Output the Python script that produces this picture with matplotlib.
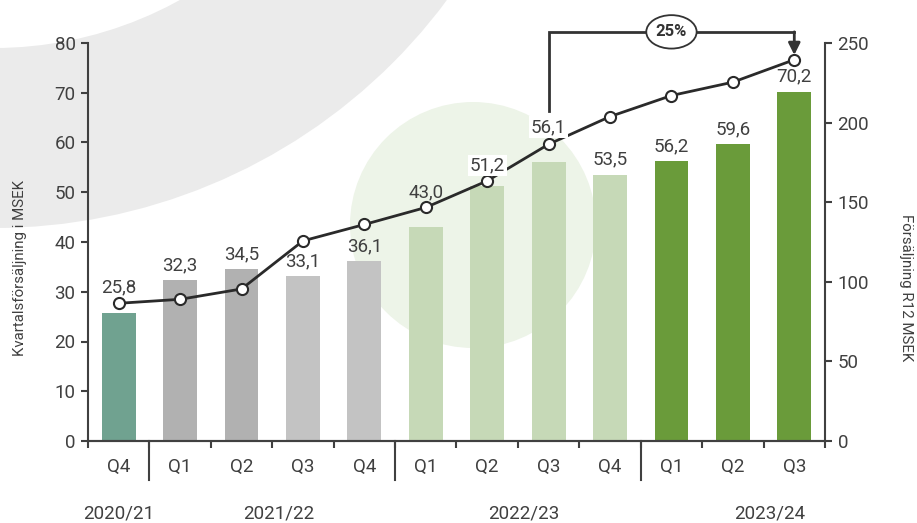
import matplotlib
matplotlib.use("Agg")
import matplotlib.pyplot as plt
from matplotlib.patches import Circle, Ellipse
from matplotlib.transforms import blended_transform_factory

plt.rcParams['font.family'] = ['Roboto', 'DejaVu Sans']

# data
quarters = ['Q4', 'Q1', 'Q2', 'Q3', 'Q4', 'Q1', 'Q2', 'Q3', 'Q4', 'Q1', 'Q2', 'Q3']
years = ['2020/21', '2021/22', '2022/23', '2023/24']
year_pos = [0, 2.6, 6.6, 10.6]
year_breaks = [0.5, 4.5, 8.5]
quarter_sales = [25.8, 32.3, 34.5, 33.1, 36.1, 43.0, 51.2, 56.1, 53.5, 56.2, 59.6, 70.2]
r12_sales = [86.5, 89.0, 95.5, 125.7, 136.0, 146.7, 163.4, 186.4, 203.8, 217.0, 225.4, 239.5]
bar_colors = ['#70a290', '#b1b1b1', '#b1b1b1', '#c3c3c3', '#c3c3c3',
              '#c6d9b7', '#c6d9b7', '#c6d9b7', '#c6d9b7',
              '#6a9b3a', '#6a9b3a', '#6a9b3a']
growth_text = '25%'

# label offsets in points (some sit higher to clear the line)
label_off = {0: 18, 5: 25, 6: 15, 7: 25}
label_box = [6, 7]

txt_col = '#404040'
fs = 13.5

fig = plt.figure(figsize=(9.17, 5.23), dpi=100)

# background shapes (pixel coords, y down)
bg = fig.add_axes([0, 0, 1, 1], zorder=-1)
bg.set_xlim(0, 917)
bg.set_ylim(523, 0)
bg.axis('off')
bg.add_patch(Circle((-6, -336), 564, color='#ebebeb', lw=0))
bg.add_patch(Circle((-6, -336), 384, color='white', lw=0))
bg.add_patch(Circle((473, 225), 123, color='#edf4e8', lw=0))

ax = fig.add_axes([88 / 917, 82 / 523, 737 / 917, 398 / 523])
ax.set_facecolor('none')
ax2 = ax.twinx()

x = list(range(len(quarters)))
ax.bar(x, quarter_sales, width=0.55, color=bar_colors, zorder=2)
ax.set_xlim(-0.5, 11.5)
ax.set_ylim(0, 80)
ax.set_yticks(range(0, 81, 10))

ax2.plot(x, r12_sales, color='#2a2a2a', lw=2, marker='o', ms=8,
         mfc='white', mec='#2a2a2a', mew=1.5, zorder=3)
ax2.set_ylim(0, 250)
ax2.set_yticks(range(0, 251, 50))

for a in (ax, ax2):
    a.spines['top'].set_visible(False)
    for s in a.spines.values():
        s.set_color(txt_col)
        s.set_linewidth(1.5)
    a.tick_params(axis='y', colors=txt_col, labelsize=fs, width=1.5, length=5, pad=4)
ax.spines['right'].set_visible(False)
ax2.spines['left'].set_visible(False)

# x ticks
ax.set_xticks(x)
ax.set_xticklabels(quarters)
ax.tick_params(axis='x', length=0, pad=12, labelsize=fs, labelcolor=txt_col)
ax.set_xticks([i - 0.5 for i in range(len(quarters) + 1)], minor=True)
ax.tick_params(axis='x', which='minor', length=5, width=1.5, color=txt_col)

trans = blended_transform_factory(ax.transData, ax.transAxes)
for b in year_breaks:
    ax.plot([b, b], [0, -0.098], transform=trans, color=txt_col, lw=1.5, clip_on=False)
for yp, yl in zip(year_pos, years):
    ax.text(yp, -0.182, yl, transform=trans, ha='center', va='center',
            fontsize=fs, color=txt_col)

# bar value labels
for i, v in enumerate(quarter_sales):
    box = dict(boxstyle='square,pad=0.1', fc='white', ec='none') if i in label_box else None
    ax2.annotate(f'{v:.1f}'.replace('.', ','), xy=(i, v), xycoords=ax.transData,
                 xytext=(0, label_off.get(i, 11)), textcoords='offset points',
                 ha='center', va='center', fontsize=fs, color=txt_col,
                 bbox=box, zorder=5)

# growth bracket
top = 257
ax2.plot([7, 7, 11], [r12_sales[7] + 21, top, top], color='#333333', lw=2,
         clip_on=False, zorder=4, solid_joinstyle='miter')
ax2.annotate('', xy=(11, r12_sales[11] + 3), xytext=(11, top),
             arrowprops=dict(arrowstyle='-|>,head_length=0.7,head_width=0.35',
                             color='#333333', lw=2, shrinkA=0, shrinkB=0),
             annotation_clip=False, zorder=4)
ax2.add_patch(Ellipse((9, top), 0.82, 21, fc='white', ec='#333333', lw=1.3,
                      clip_on=False, zorder=5))
ax2.text(9, top, growth_text, ha='center', va='center', fontsize=12,
         fontweight='bold', color='#333333', zorder=6, clip_on=False)

fig.text(20 / 917, 1 - 268 / 523, 'Kvartalsförsäljning i MSEK', rotation=90,
         ha='center', va='center', fontsize=10.8, color=txt_col)
fig.text(906 / 917, 1 - 288 / 523, 'Försäljning R12 MSEK', rotation=-90,
         ha='center', va='center', fontsize=10.8, color=txt_col)

fig.savefig('out.png', dpi=100)
